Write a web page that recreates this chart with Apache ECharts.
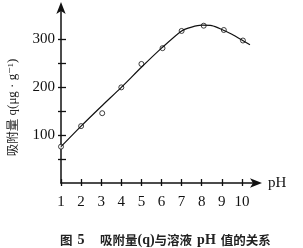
<!DOCTYPE html>
<html><head><meta charset="utf-8">
<script src="https://cdn.jsdelivr.net/npm/echarts@6/dist/echarts.min.js"></script>
<style>html,body{margin:0;padding:0;background:#fff}#c{width:303px;height:248px}</style>
</head><body><div id="c"></div>
<script>
const pointsPH = [1, 2, 3.05, 4, 5, 6.05, 7, 8.1, 9.1, 10.05];
const pointsQ = [76, 119, 146, 200, 249, 282, 318, 329, 320, 298];
const curvePH = [1, 2, 3, 4, 5, 6, 7, 7.5, 8, 8.5, 9, 9.5, 10, 10.4];
const curveQ = [76, 119, 160, 200, 242, 282, 318, 326, 330, 329, 321, 311, 299, 289];
const xTicks = [1, 2, 3, 4, 5, 6, 7, 8, 9, 10];
const yTicks = [50, 100, 150, 200, 250, 300];
const yLabels = [100, 200, 300];

const serif = '"Liberation Serif", "DejaVu Serif", serif';
const cjk = '"Noto Sans CJK SC", sans-serif';
const capRich = {
  c: { fontFamily: cjk, fontSize: 12.5, fontWeight: 'bold', color: '#222' },
  s: { fontFamily: serif, fontSize: 14, color: '#222' }
};
const chart = echarts.init(document.getElementById('c'));
const tickStyle = { color: '#111', width: 1.3 };
chart.setOption({
  animation: false,
  backgroundColor: '#fff',
  title: [
    { text: '{c|图} {s|5}', left: 55, top: 226, textStyle: { rich: capRich } },
    { text: '{c|吸附量}{s|(q)}{c|与溶液} {s|pH} {c|值的关系}', left: 95, top: 226, textStyle: { rich: capRich } }
  ],
  grid: { left: 61, right: 303 - 256, top: 8, bottom: 248 - 183, containLabel: false, outerBoundsMode: 'none' },
  xAxis: [{
    type: 'value', min: 1, max: 10.7,
    name: 'pH', nameLocation: 'end', nameGap: 12,
    nameTextStyle: { fontFamily: serif, fontSize: 15, color: '#111', verticalAlign: 'middle' },
    axisLine: { show: true, symbol: ['none', 'arrow'], symbolSize: [7, 12], symbolOffset: [0, 6], lineStyle: { color: '#111', width: 1.5 } },
    axisTick: { show: true, inside: false, length: 3, customValues: xTicks, lineStyle: tickStyle },
    axisLabel: { customValues: xTicks, margin: 12, fontFamily: serif, fontSize: 15, color: '#111' },
    splitLine: { show: false }
  }, {
    type: 'value', min: 1, max: 10.7, position: 'bottom',
    axisLine: { show: false },
    axisTick: { show: true, inside: true, length: 4, customValues: xTicks, lineStyle: tickStyle },
    axisLabel: { show: false },
    splitLine: { show: false }
  }],
  yAxis: [{
    type: 'value', min: 0, max: 366,
    name: '{c|吸附量} {s|q(μg · g⁻¹)}', nameLocation: 'middle', nameGap: 42, nameRotate: 90,
    nameTextStyle: { rich: {
      c: { fontFamily: cjk, fontSize: 12.5, color: '#222' },
      s: { fontFamily: serif, fontSize: 13, color: '#222' }
    }, padding: [0, 0, 0, -24] },
    axisLine: { show: true, symbol: ['none', 'arrow'], symbolSize: [7, 12], symbolOffset: [0, 6], lineStyle: { color: '#111', width: 1.5 } },
    axisTick: { show: true, length: 3, customValues: yTicks, lineStyle: tickStyle },
    axisLabel: { customValues: yLabels, margin: 6, fontFamily: serif, fontSize: 15, color: '#111' },
    splitLine: { show: false }
  }, {
    type: 'value', min: 0, max: 366, position: 'left',
    axisLine: { show: false },
    axisTick: { show: true, inside: true, length: 5, customValues: yTicks, lineStyle: tickStyle },
    axisLabel: { show: false },
    splitLine: { show: false }
  }],
  series: [
    {
      type: 'line', smooth: 0.25, showSymbol: false,
      data: curvePH.map((x, i) => [x, curveQ[i]]),
      lineStyle: { color: '#111', width: 1.2 }
    },
    {
      type: 'scatter', symbol: 'circle', symbolSize: 5,
      data: pointsPH.map((x, i) => [x, pointsQ[i]]),
      itemStyle: { color: '#fff', borderColor: '#111', borderWidth: 1 }
    }
  ]
});
</script></body></html>
